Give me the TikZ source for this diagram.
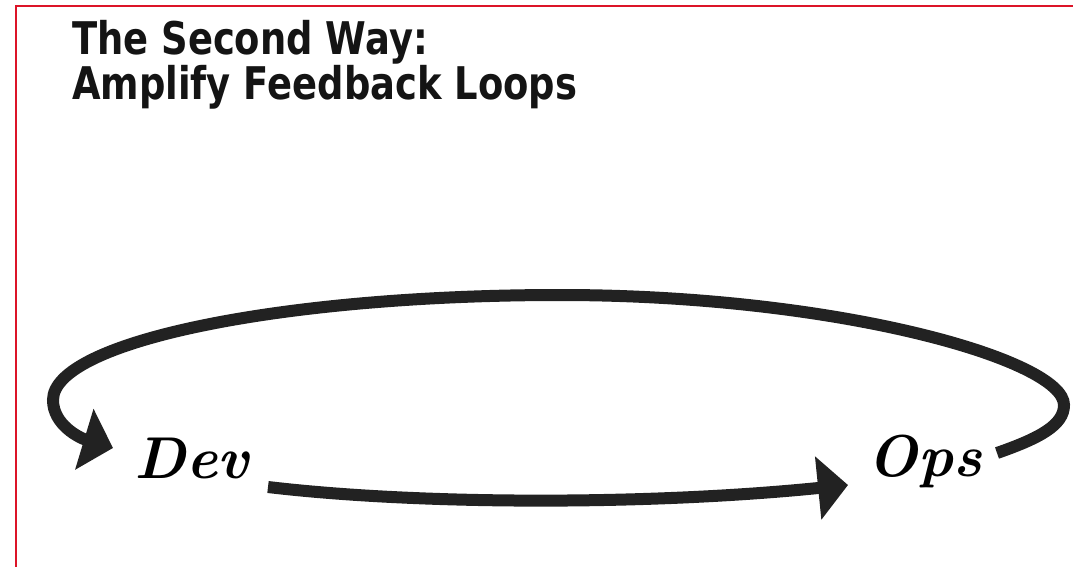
\documentclass[tikz,border=0pt]{standalone}
\usepackage{fontspec}
\newfontfamily\titlefont{DejaVu Sans}
\usetikzlibrary{arrows.meta}
\definecolor{ink}{RGB}{34,34,34}
\definecolor{framered}{RGB}{220,20,40}
\begin{document}
\begin{tikzpicture}[x=1pt,y=-1pt,
  flow/.style={draw=ink, line width=12pt, -{Triangle[length=30pt,width=62pt]}},
  label/.style={font=\fontsize{59}{64}\selectfont\bfseries\itshape, text=black, inner sep=0pt, anchor=base},
  heading/.style={font=\titlefont\bfseries\fontsize{45}{50}\selectfont, text=black!92, inner sep=0pt, anchor=base west}]
\useasboundingbox (0,0) rectangle (1073,567);
\fill[white] (0,0) rectangle (1073,567);
\draw[framered, line width=2pt] (16,567) -- (16,6) -- (1073,6);

\node[heading] (title) at (72,55) {\scalebox{0.82}[1]{The Second Way:}};
\node[heading] (subtitle) at (72,100) {\scalebox{0.82}[1]{Amplify Feedback Loops}};

\node[label] (dev) at (192,478) {Dev};
\node[label] (ops) at (925,476) {Ops};

\coordinate (devR) at (268,487);
\coordinate (opsL) at (848,485);
\coordinate (opsR) at (997,453);
\coordinate (devL) at (113,448);

\draw[flow] (devR) .. controls (420,505) and (650,505) .. (opsL);
\draw[flow] (opsR) .. controls (1040,438) and (1064,425) .. (1064,405)
  .. controls (1064,360) and (838,295) .. (560,295)
  .. controls (280,295) and (53,342) .. (53,400)
  .. controls (53,425) and (80,438) .. (devL);
\end{tikzpicture}
\end{document}
